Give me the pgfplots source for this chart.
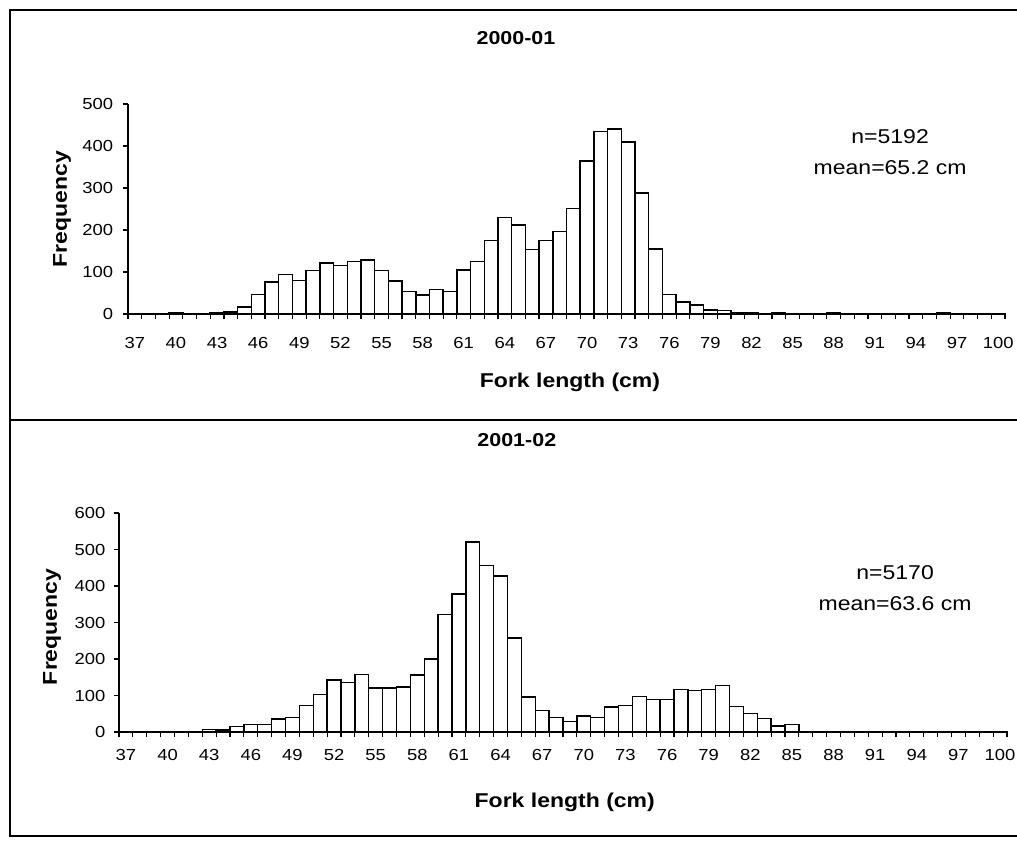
\documentclass[border=0pt]{standalone}
\usepackage{fontspec}
\setmainfont{Liberation Sans}[FakeStretch=1.15]
\usepackage{pgfplots}
\usepackage{pgfplotstable}
\pgfplotsset{compat=1.18}

\pgfplotstableread{
x y
37 1
38 1
39 1
40 2
41 1
42 1
43 2
44 5
45 17
46 47
47 76
48 94
49 80
50 104
51 121
52 116
53 125
54 129
55 104
56 79
57 54
58 45
59 58
60 54
61 105
62 125
63 175
64 230
65 212
66 154
67 175
68 196
69 251
70 364
71 435
72 440
73 410
74 288
75 155
76 47
77 29
78 21
79 9
80 8
81 3
82 2
83 1
84 4
85 1
86 1
87 1
88 2
89 1
90 1
91 1
92 1
93 1
94 1
95 1
96 2
97 1
98 1
99 1
100 1
}\dataA

\pgfplotstableread{
x y
37 1
38 2
39 1
40 1
41 1
42 1
43 7
44 5
45 15
46 21
47 21
48 35
49 40
50 73
51 103
52 142
53 135
54 158
55 121
56 121
57 123
58 156
59 200
60 322
61 378
62 520
63 456
64 428
65 258
66 96
67 59
68 39
69 29
70 44
71 39
72 68
73 73
74 97
75 89
76 89
77 117
78 114
79 117
80 127
81 70
82 50
83 37
84 16
85 21
86 1
87 2
88 1
89 1
90 1
91 2
92 1
93 1
94 1
95 1
96 1
97 1
98 2
99 1
100 2
}\dataB

\pgfplotsset{fishhist/.style={
  scale only axis, clip=false,
  axis x line*=bottom, axis y line*=left,
  axis line style={line width=1.1pt, black},
  xmin=36.5, xmax=100.5, ymin=0,
  xtick={37,40,...,100},
  minor xtick={36.5,37.5,...,100.5},
  tick align=outside,
  major tick length=4pt, minor tick length=4pt,
  tick style={line width=0.9pt, color=black},
  major x tick style={draw=none},
  ybar, bar width=1,
  /pgf/number format/assume math mode=true,
  ticklabel style={font=\fontsize{12}{14}\selectfont},
  xticklabel style={anchor=center, yshift=-18pt},
  yticklabel style={anchor=east, inner sep=0pt},
  xlabel={Fork length (cm)}, ylabel={Frequency},
  label style={font=\bfseries\fontsize{15}{18}\selectfont},
}}

\begin{document}
\begin{tikzpicture}
\useasboundingbox (0,0) rectangle (762.75pt,631.5pt);
% frame
\draw[line width=1.5pt] (762.75pt,624pt) -- (7.5pt,624pt) -- (7.5pt,4.5pt) -- (762.75pt,4.5pt);
\draw[line width=2pt] (7.5pt,316.5pt) -- (762.75pt,316.5pt);

\begin{axis}[fishhist,
  at={(96pt,396pt)}, anchor=south west,
  width=657.75pt, height=157.5pt,
  ymax=500, ytick={0,100,...,500},
  yticklabel shift=7pt,
  xlabel style={at={(axis description cs:0.504,-0.324)}, anchor=center},
  ylabel style={at={(axis description cs:-0.0753,0.5)}, anchor=center},
]
\addplot[fill=white, draw=black, line width=1.1pt] table[x=x,y=y] {\dataA};
\node[font=\bfseries\fontsize{14}{16}\selectfont] at (axis description cs:0.4424,1.314) {2000-01};
\node[align=center, font=\fontsize{15}{23.25}\selectfont] at (axis description cs:0.869,0.769) {n=5192\\mean=65.2 cm};
\end{axis}

\begin{axis}[fishhist,
  at={(89.25pt,82.5pt)}, anchor=south west,
  width=666pt, height=164.25pt,
  ymax=600, ytick={0,100,...,600},
  xticklabel style={yshift=5pt},
  yticklabel shift=6pt,
  xlabel style={at={(axis description cs:0.502,-0.32)}, anchor=center},
  ylabel style={at={(axis description cs:-0.0755,0.48)}, anchor=center},
]
\addplot[fill=white, draw=black, line width=1.1pt] table[x=x,y=y] {\dataB};
\node[font=\bfseries\fontsize{14}{16}\selectfont] at (axis description cs:0.448,1.333) {2001-02};
\node[align=center, font=\fontsize{15}{23.25}\selectfont] at (axis description cs:0.874,0.655) {n=5170\\mean=63.6 cm};
\end{axis}
\end{tikzpicture}
\end{document}
